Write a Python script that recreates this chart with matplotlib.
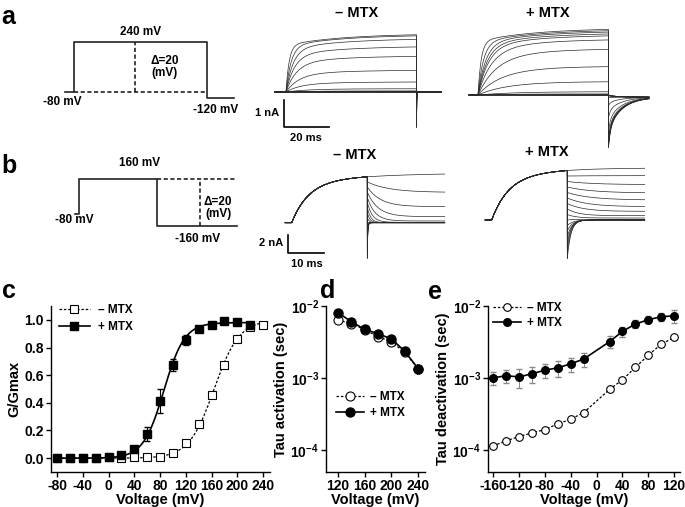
import numpy as np
import matplotlib
matplotlib.use("Agg")
import matplotlib.pyplot as plt
from matplotlib.lines import Line2D
from matplotlib.ticker import FuncFormatter, NullLocator

plt.rcParams["font.family"] = ["Liberation Sans", "DejaVu Sans"]
plt.rcParams["font.weight"] = "bold"
plt.rcParams["axes.unicode_minus"] = False
plt.rcParams["mathtext.fontset"] = "custom"
plt.rcParams["mathtext.bf"] = "Liberation Sans:bold"
plt.rcParams["mathtext.rm"] = "Liberation Sans:bold"

# ---------------- data ----------------
# panel a: step to -80..240 mV (20 mV steps), tail at -120 mV
step_a = 58.0                      # ms
amp_a_minus = [0, 0, 0, 0, 0, 0, 0.01, 0.02, 0.04, 0.12, 0.37, 0.80, 1.32, 1.67, 1.95, 2.08, 2.12]   # nA
tau_a_minus = [15, 15, 15, 15, 15, 15, 15, 15, 12, 9, 6.4, 5.7, 4.7, 3.8, 3.2, 2.3, 1.4]            # ms
amp_a_plus = [0, 0, 0, 0, 0, 0.01, 0.04, 0.12, 0.49, 1.05, 1.69, 2.04, 2.19, 2.26, 2.33, 2.38, 2.43]
tau_a_plus = [15, 15, 15, 15, 15, 15, 15, 15, 12, 10, 8.1, 6.0, 4.7, 4.1, 3.4, 2.4, 1.4]

# panel b: step to 160 mV, tails at 160..-160 mV
step_b = 21.0
volt_b_tail = [160, 140, 120, 100, 80, 60, 40, 20, 0, -20, -40, -60, -80, -100, -120, -140, -160]
amp_b_minus = 5.1
iss_b_minus = [5.5, 3.37, 1.78, 0.67, 0.19, 0.04, 0, 0, 0, 0, 0, 0, 0, 0, 0, 0, 0]
tau_b_minus = [15, 6, 3.7, 3.0, 2.1, 1.4, 0.95, 0.7, 0.5, 0.33, 0.27, 0.23, 0.19, 0.17, 0.155, 0.135, 0.115]
amp_b_plus = 5.5
iss_b_plus = [5.78, 4.93, 3.93, 3.0, 2.22, 1.48, 0.96, 0.48, 0.22, 0.07, 0, 0, 0, 0, 0, 0, 0]
tau_b_plus = [10, 8, 7.3, 7.1, 6.5, 5.6, 4.45, 3.2, 2.4, 1.84, 1.58, 1.39, 1.29, 1.15, 1.04, 1.08, 1.01]

# panel c: G/Gmax
volt_c = [-80, -60, -40, -20, 0, 20, 40, 60, 80, 100, 120, 140, 160, 180, 200, 220, 240]
g_minus = [0, 0, 0, 0, 0.005, 0.0, 0.005, 0.005, 0.01, 0.035, 0.11, 0.25, 0.455, 0.675, 0.865, 0.945, 0.965]
g_minus_err = [0, 0, 0, 0, 0.005, 0.005, 0.005, 0.005, 0.005, 0.01, 0.015, 0.02, 0.02, 0.02, 0.025, 0.01, 0.01]
g_plus = [0, 0, 0, 0.002, 0.01, 0.025, 0.065, 0.175, 0.415, 0.675, 0.855, 0.935, 0.965, 0.995, 0.985, 0.96]
g_plus_err = [0, 0, 0, 0, 0.005, 0.01, 0.01, 0.05, 0.085, 0.045, 0.035, 0.015, 0.01, 0.005, 0.01, 0.015]
vhalf_minus, slope_minus = 164.0, 19.5
vhalf_plus, slope_plus, gfit_plus = 86.0, 16.0, 0.98

# panel d: activation time constants (s)
volt_d = [120, 140, 160, 180, 200, 220, 240]
tau_act_minus = [6.4e-3, 5.7e-3, 4.7e-3, 3.75e-3, 3.2e-3, 2.27e-3, 1.36e-3]
tau_act_plus = [8.1e-3, 6.05e-3, 4.74e-3, 4.13e-3, 3.5e-3, 2.37e-3, 1.36e-3]

# panel e: deactivation time constants (s)
volt_e = [-160, -140, -120, -100, -80, -60, -40, -20, 20, 40, 60, 80, 100, 120]
tau_deact_minus = [1.15e-4, 1.35e-4, 1.55e-4, 1.74e-4, 1.94e-4, 2.32e-4, 2.70e-4, 3.33e-4,
                   6.97e-4, 9.5e-4, 1.41e-3, 2.08e-3, 2.96e-3, 3.67e-3]
tau_deact_minus_err = [0.08e-4, 0.08e-4, 0.1e-4, 0.1e-4, 0.12e-4, 0.15e-4, 0.15e-4, 0.2e-4,
                       0.4e-4, 0.5e-4, 0.1e-3, 0.15e-3, 0.2e-3, 0.25e-3]
tau_deact_plus = [1.01e-3, 1.08e-3, 1.04e-3, 1.15e-3, 1.29e-3, 1.39e-3, 1.58e-3, 1.84e-3,
                  3.2e-3, 4.45e-3, 5.62e-3, 6.46e-3, 7.1e-3, 7.3e-3]
tau_deact_plus_err = [0.2e-3, 0.22e-3, 0.3e-3, 0.28e-3, 0.3e-3, 0.35e-3, 0.35e-3, 0.4e-3,
                      0.6e-3, 0.7e-3, 0.7e-3, 0.7e-3, 0.9e-3, 1.4e-3]

MINUS = "\u2013 MTX"
PLUS = "+ MTX"

# ---------------- figure ----------------
W, H = 685, 507
fig = plt.figure(figsize=(W / 100, H / 100), dpi=100)


def fig_box(l, t, r, b):
    return [l / W, 1 - b / H, (r - l) / W, (b - t) / H]


def px_axes(box, xref, yref):
    # xref / yref = (pixel, value, pixels per unit)
    l, t, r, b = box
    ax = fig.add_axes(fig_box(l, t, r, b))
    ax.set_xlim(xref[1] + (l - xref[0]) / xref[2], xref[1] + (r - xref[0]) / xref[2])
    ax.set_ylim(yref[1] - (b - yref[0]) / yref[2], yref[1] - (t - yref[0]) / yref[2])
    ax.axis("off")
    return ax


def ptext(x, y, s, size=8.5, **kw):
    fig.text(x / W, 1 - y / H, s, fontsize=size, fontweight="bold", ha="center", va="center", **kw)


def act_curve(t, amp, tau, T, frac=0.2, tau_slow=25.0):
    s = (1 - frac) * (1 - np.exp(-t / tau)) + frac * (1 - np.exp(-t / tau_slow))
    s_end = (1 - frac) * (1 - np.exp(-T / tau)) + frac * (1 - np.exp(-T / tau_slow))
    return amp * s / s_end


def draw_trace(ax, amp, tau, T, pre, tail_len, tail_fn):
    t_act = np.linspace(0, T, 500)
    t_tail = np.concatenate([np.linspace(0, 2, 500), np.linspace(2, tail_len, 300)[1:]])
    t = np.concatenate([[-pre, 0], t_act, T + t_tail])
    y = np.concatenate([[0, 0], act_curve(t_act, amp, tau, T), tail_fn(t_tail)])
    ax.plot(t, y, color="#2a2a2a", lw=0.5)


tcol = "#222222"
pdash = (0, (2.5, 1.5))

# ---- a: protocol ----
pa = px_axes((55, 25, 245, 115), (74, 0, 2.29), (42, 240, 0.15625))
pa.plot([-4, 0, 0, step_a, step_a, step_a + 12], [-80, -80, 240, 240, -120, -120], color=tcol, lw=1.2)
pa.plot([0, step_a], [-80, -80], color=tcol, lw=1.2, ls=pdash)
pa.plot([26.6, 26.6], [-80, 240], color=tcol, lw=1.2, ls=pdash)
ptext(141, 32, "240 mV")
ptext(62, 102, "-80 mV")
ptext(216, 110, "-120 mV")
ptext(165, 67, "\u0394=20\n(mV)", linespacing=1.05)

# ---- a: traces ----
ta_m = px_axes((250, 20, 455, 140), (286, 0, 2.25), (92, 0, 27))
for A, tau in zip(amp_a_minus, tau_a_minus):
    draw_trace(ta_m, A, tau, step_a, 5, 11, lambda t, A=A: -0.62 * A * np.exp(-t / 0.12))
ta_m.plot([-0.9, -0.9, 19.1], [-0.30, -1.30, -1.30], color="k", lw=1.2)
ptext(267, 113, "1 nA", size=8)
ptext(306, 138, "20 ms", size=8)
ptext(357, 13, MINUS, size=10.5)

ta_p = px_axes((460, 20, 665, 160), (478, 0, 2.25), (95, 0, 27))
for A, tau in zip(amp_a_plus, tau_a_plus):
    draw_trace(ta_p, A, tau, step_a, 4, 18,
               lambda t, A=A: -0.08 + (-0.8 * A + 0.08) * (0.35 * np.exp(-t / 0.8) + 0.65 * np.exp(-t / 6.0)))
ptext(548, 13, PLUS, size=10.5)

# ---- b: protocol ----
pb = px_axes((60, 160, 250, 250), (79.3, 0, 3.71), (179, 160, 0.1469))
pb.plot([-1.2, 0, 0, step_b, step_b, step_b + 21.5], [-80, -80, 160, 160, -160, -160], color=tcol, lw=1.2)
pb.plot([step_b, step_b + 21.5], [160, 160], color=tcol, lw=1.2, ls=pdash)
pb.plot([32.5, 32.5], [-160, 160], color=tcol, lw=1.2, ls=pdash)
ptext(140, 163, "160 mV")
ptext(74, 220, "-80 mV")
ptext(198, 239, "-160 mV")
ptext(218, 208, "\u0394=20\n(mV)", linespacing=1.0)

# ---- b: traces ----
tb_m = px_axes((275, 160, 455, 270), (291.7, 0, 3.6), (222.7, 0, 9))
for V, iss, tau in zip(volt_b_tail, iss_b_minus, tau_b_minus):
    i0 = amp_b_minus * (V + 20) / 180.0
    draw_trace(tb_m, amp_b_minus, 4.7, step_b, 1.8, 21.5,
               lambda t, i0=i0, iss=iss, tau=tau: iss + (i0 - iss) * np.exp(-t / tau))
tb_m.plot([-0.94, -0.94, 9.06], [-1.4, -3.4, -3.4], color="k", lw=1.2)
ptext(271, 243, "2 nA", size=8)
ptext(307, 264, "10 ms", size=8)
ptext(355, 155, MINUS, size=10.5)

tb_p = px_axes((475, 160, 660, 270), (491.7, 0, 3.6), (220, 0, 9))
for V, iss, tau in zip(volt_b_tail, iss_b_plus, tau_b_plus):
    i0 = amp_b_plus * (V + 20) / 180.0
    draw_trace(tb_p, amp_b_plus, 4.7, step_b, 1.8, 21.5,
               lambda t, i0=i0, iss=iss, tau=tau: iss + (i0 - iss) * np.exp(-t / tau))
ptext(547, 152, PLUS, size=10.5)


# ---- bottom panels ----
def style_axes(ax, tick_size=10):
    for s in ("top", "right"):
        ax.spines[s].set_visible(False)
    for s in ("left", "bottom"):
        ax.spines[s].set_linewidth(1.0)
    ax.tick_params(direction="out", length=3.5, width=1.0, labelsize=tick_size, pad=1.5)
    for lab in ax.get_xticklabels() + ax.get_yticklabels():
        lab.set_fontweight("bold")


dash = (0, (2, 1.5))

# c
axc = fig.add_axes(fig_box(50.6, 306, 269.5, 472))
vfit = np.linspace(-80, 250, 400)
axc.plot(vfit, 1 / (1 + np.exp((vhalf_minus - vfit) / slope_minus)), color="k", lw=0.9, ls=dash)
vfit_p = np.linspace(-80, 220, 400)
axc.plot(vfit_p, gfit_plus / (1 + np.exp((vhalf_plus - vfit_p) / slope_plus)), color="k", lw=1.2)
axc.errorbar(volt_c, g_minus, yerr=g_minus_err, fmt="s", ms=5.5, mfc="white", mec="k", mew=0.8,
             ecolor="#555555", elinewidth=0.7, capsize=1.5, clip_on=False, zorder=3)
axc.errorbar(volt_c[:len(g_plus)], g_plus, yerr=g_plus_err, fmt="s", ms=5.5, mfc="k", mec="k",
             ecolor="k", elinewidth=0.8, capsize=2, clip_on=False, zorder=4)
axc.set_xlim(-90, 250)
axc.set_ylim(-0.1, 1.1)
axc.set_xticks(range(-80, 241, 40))
axc.set_yticks([0, 0.2, 0.4, 0.6, 0.8, 1.0])
axc.yaxis.set_major_formatter(FuncFormatter(lambda y, p: "%.1f" % y))
axc.set_xlabel("Voltage (mV)", fontsize=10.5, fontweight="bold", labelpad=0)
axc.set_ylabel("G/Gmax", fontsize=10.5, fontweight="bold", labelpad=2)
style_axes(axc)
h_m = Line2D([], [], color="k", lw=0.9, ls=dash, marker="s", ms=5.5, mfc="white", mec="k", mew=0.8)
h_p = Line2D([], [], color="k", lw=1.2, marker="s", ms=5.5, mfc="k", mec="k")
fig.legend([h_m, h_p], [MINUS, PLUS], loc="center left", bbox_to_anchor=(59 / W, 1 - 318.5 / H),
           frameon=False, handlelength=2.6, handletextpad=0.7, labelspacing=0.45,
           borderpad=0, borderaxespad=0, prop={"weight": "bold", "size": 8.5})

logfmt = FuncFormatter(lambda y, p: r"$\mathbf{10^{%d}}$" % int(round(np.log10(y))))

# d
axd = fig.add_axes(fig_box(326, 306, 424.7, 472))
axd.plot(volt_d, tau_act_minus, color="k", lw=0.9, ls=dash, marker="o", ms=6.5, mfc="white", mec="k",
         mew=0.8, clip_on=False, zorder=3)
axd.plot(volt_d, tau_act_plus, color="k", lw=1.2, marker="o", ms=6.5, mfc="k", mec="k",
         clip_on=False, zorder=4)
axd.set_yscale("log")
axd.set_xlim(102, 250)
axd.set_ylim(5e-5, 1e-2)
axd.set_xticks([120, 160, 200, 240])
axd.set_yticks([1e-4, 1e-3, 1e-2])
axd.yaxis.set_major_formatter(logfmt)
axd.yaxis.set_minor_locator(NullLocator())
axd.set_xlabel("Voltage (mV)", fontsize=10.5, fontweight="bold", labelpad=0)
axd.set_ylabel("Tau activation (sec)", fontsize=10.5, fontweight="bold", labelpad=2)
style_axes(axd)
fig.legend([Line2D([], [], color="k", lw=0.9, ls=dash, marker="o", ms=6.5, mfc="white", mec="k", mew=0.8),
            Line2D([], [], color="k", lw=1.2, marker="o", ms=6.5, mfc="k", mec="k")],
           [MINUS, PLUS], loc="center left", bbox_to_anchor=(336 / W, 1 - 405 / H),
           frameon=False, handlelength=2.4, handletextpad=0.5, labelspacing=0.3,
           borderpad=0, borderaxespad=0, prop={"weight": "bold", "size": 8.5})

# e
axe = fig.add_axes(fig_box(488, 306, 680, 472))
axe.errorbar(volt_e, tau_deact_minus, yerr=tau_deact_minus_err, color="k", lw=0.9, ls=dash, marker="o",
             ms=5.5, mfc="white", mec="k", mew=0.8, ecolor="#777777", elinewidth=0.7, capsize=1.5,
             clip_on=False, zorder=3)
axe.errorbar(volt_e, tau_deact_plus, yerr=tau_deact_plus_err, color="k", lw=1.2, ls="-", marker="o",
             ms=5.5, mfc="k", mec="k", ecolor="#888888", elinewidth=0.7, capsize=2,
             clip_on=False, zorder=4)
axe.set_yscale("log")
axe.set_xlim(-168, 129)
axe.set_ylim(5e-5, 1e-2)
axe.set_xticks(range(-160, 121, 40))
axe.set_yticks([1e-4, 1e-3, 1e-2])
axe.yaxis.set_major_formatter(logfmt)
axe.yaxis.set_minor_locator(NullLocator())
axe.set_xlabel("Voltage (mV)", fontsize=10.5, fontweight="bold", labelpad=0)
axe.set_ylabel("Tau deactivation (sec)", fontsize=10.5, fontweight="bold", labelpad=2)
style_axes(axe)
fig.legend([Line2D([], [], color="k", lw=0.9, ls=dash, marker="o", ms=5.5, mfc="white", mec="k", mew=0.8),
            Line2D([], [], color="k", lw=1.2, marker="o", ms=5.5, mfc="k", mec="k")],
           [MINUS, PLUS], loc="center left", bbox_to_anchor=(493 / W, 1 - 315.5 / H),
           frameon=False, handlelength=2.4, handletextpad=0.5, labelspacing=0.3,
           borderpad=0, borderaxespad=0, prop={"weight": "bold", "size": 8.5})

# panel letters
for letter, x, y in [("a", 8, 17), ("b", 9, 166), ("c", 9, 291), ("d", 328, 291), ("e", 435, 292)]:
    ptext(x, y, letter, size=18)

fig.savefig("out.png", dpi=100)
